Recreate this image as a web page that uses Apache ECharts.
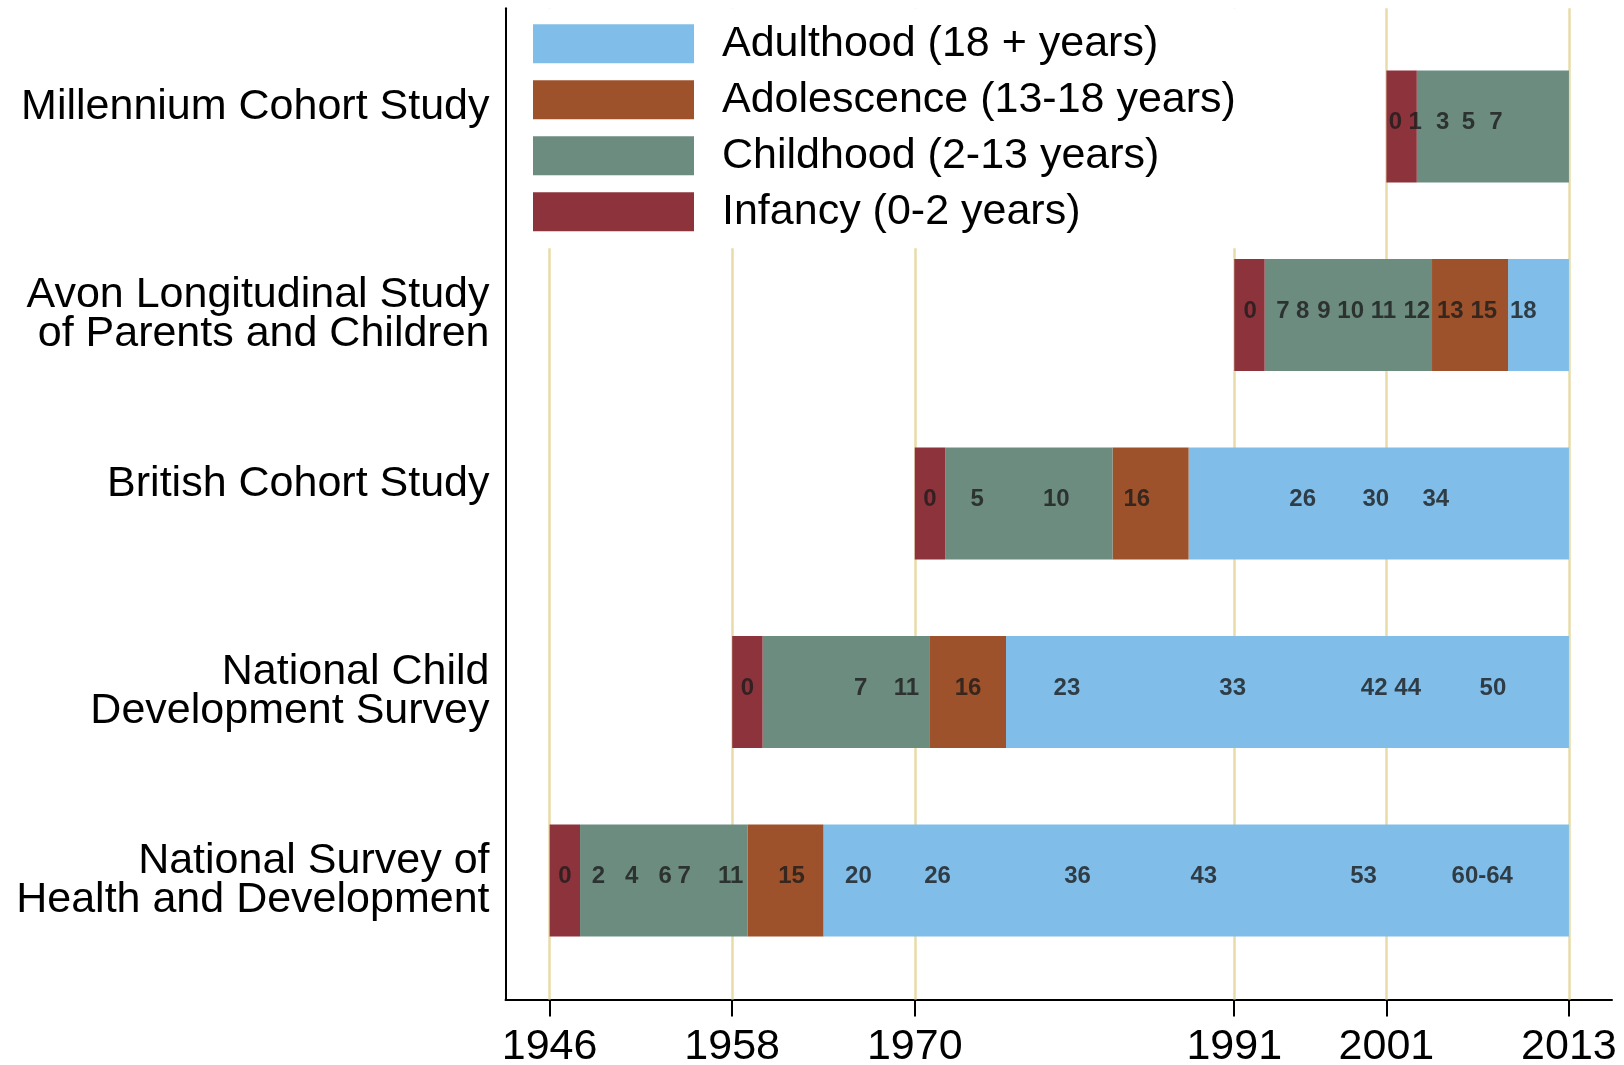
<!DOCTYPE html>
<html>
<head>
<meta charset="utf-8">
<title>Cohort studies timeline</title>
<script src="https://cdn.jsdelivr.net/npm/echarts@6/dist/echarts.min.js"></script>
<style>
  html, body { margin: 0; padding: 0; background: #fff; }
  #chart { width: 1624px; height: 1065px; }
</style>
</head>
<body>
<div id="chart"></div>
<script>
// rows, bottom to top
var cohorts = [
    'National Survey of\nHealth and Development',
    'National Child\nDevelopment Survey',
    'British Cohort Study',
    'Avon Longitudinal Study\nof Parents and Children',
    'Millennium Cohort Study'
];
var yearTicks = [1946, 1958, 1970, 1991, 2001, 2013];

// [start year, end year] per row index
var infancy = [[1946, 1948], [1958, 1960], [1970, 1972], [1991, 1993], [2001, 2003]];
var childhood = [[1948, 1959], [1960, 1971], [1972, 1983], [1993, 2004], [2003, 2013]];
var adolescence = [[1959, 1964], [1971, 1976], [1983, 1988], [2004, 2009]];
var adulthood = [[1964, 2013], [1976, 2013], [1988, 2013], [2009, 2013]];

// sweep ages written on the bars and where they sit (year)
var nshdAges = ['0', '2', '4', '6', '7', '11', '15', '20', '26', '36', '43', '53', '60-64'];
var nshdAt = [1947.0, 1949.2, 1951.4, 1953.6, 1954.85, 1957.9, 1961.9, 1966.3, 1971.5, 1980.7, 1989.0, 1999.5, 2007.3];
var ncdsAges = ['0', '7', '11', '16', '23', '33', '42', '44', '50'];
var ncdsAt = [1959.0, 1966.45, 1969.45, 1973.5, 1980.0, 1990.9, 2000.2, 2002.4, 2008.0];
var bcsAges = ['0', '5', '10', '16', '26', '30', '34'];
var bcsAt = [1971.0, 1974.1, 1979.3, 1984.6, 1995.5, 2000.3, 2004.25];
var alspacAges = ['0', '7', '8', '9', '10', '11', '12', '13', '15', '18'];
var alspacAt = [1992.05, 1994.2, 1995.5, 1996.9, 1998.65, 2000.8, 2003.0, 2005.2, 2007.4, 2010.0];
var mcsAges = ['0', '1', '3', '5', '7'];
var mcsAt = [2001.6, 2002.9, 2004.7, 2006.4, 2008.2];

var FONT = '"Liberation Sans", Arial, Helvetica, sans-serif';
var barRatio = 0.594;

var spans = function (list) {
    return list.map(function (d, i) { return [d[0], d[1], i]; });
};

var ageLabels = function () {
    var out = [];
    [[nshdAges, nshdAt], [ncdsAges, ncdsAt], [bcsAges, bcsAt], [alspacAges, alspacAt], [mcsAges, mcsAt]]
        .forEach(function (row, r) {
            row[0].forEach(function (txt, k) { out.push([row[1][k], r, txt]); });
        });
    return out;
};

var renderSpan = function (params, api) {
    var start = api.coord([api.value(0), api.value(2)]);
    var end = api.coord([api.value(1), api.value(2)]);
    var h = api.size([0, barRatio])[1];
    var rect = echarts.graphic.clipRectByRect({
        x: start[0], y: start[1] - h / 2, width: end[0] - start[0], height: h
    }, {
        x: params.coordSys.x, y: params.coordSys.y,
        width: params.coordSys.width, height: params.coordSys.height
    });
    if (!rect) return;
    return { type: 'rect', shape: rect, style: { fill: api.visual('color') } };
};

var phaseSeries = function (name, color, list) {
    return {
        name: name,
        type: 'custom',
        renderItem: renderSpan,
        encode: { x: [0, 1], y: 2 },
        itemStyle: { color: color },
        data: spans(list),
        z: 2,
        silent: true
    };
};

var chart = echarts.init(document.getElementById('chart'));

var infancySeries = phaseSeries('Infancy (0-2 years)', '#8d333c', infancy);
infancySeries.markLine = {
    silent: true,
    z: 1,
    symbol: 'none',
    label: { show: false },
    lineStyle: { color: '#e8dba8', width: 2.5, type: 'solid' },
    data: yearTicks.map(function (y) { return { xAxis: y }; })
};

chart.setOption({
    animation: false,
    backgroundColor: '#fff',
    grid: { left: 505.5, right: 12, top: 8.3, bottom: 65.5, containLabel: false, outerBoundsMode: 'none' },
    legend: {
        orient: 'vertical',
        left: 513,
        top: 8.3,
        padding: [14, 20, 15, 20],
        backgroundColor: '#fff',
        itemWidth: 161,
        itemHeight: 39,
        itemGap: 13,
        icon: 'rect',
        selectedMode: false,
        data: ['Adulthood (18 + years)', 'Adolescence (13-18 years)', 'Childhood (2-13 years)', 'Infancy (0-2 years)'],
        textStyle: { fontFamily: FONT, fontSize: 43, lineHeight: 39, color: '#000', padding: [0, 0, 0, 23] }
    },
    xAxis: {
        type: 'value',
        min: 1943.1,
        max: 2015.83,
        axisLine: { show: true, onZero: false, lineStyle: { color: '#000', width: 2 } },
        axisTick: { show: true, customValues: yearTicks, length: 17, lineStyle: { color: '#000', width: 2 } },
        axisLabel: {
            customValues: yearTicks,
            margin: 26,
            fontFamily: FONT,
            fontSize: 43,
            color: '#000',
            formatter: function (v) { return String(v); }
        },
        splitLine: { show: false }
    },
    yAxis: {
        type: 'value',
        min: -0.631,
        max: 4.627,
        axisLine: { show: true, onZero: false, lineStyle: { color: '#000', width: 2 } },
        axisTick: { show: false },
        axisLabel: {
            customValues: [0, 1, 2, 3, 4],
            margin: 16,
            fontFamily: FONT,
            fontSize: 43,
            lineHeight: 39,
            color: '#000',
            formatter: function (v) {
                var name = cohorts[Math.round(v)];
                return name.indexOf('\n') < 0 ? name + '\n ' : name;
            }
        },
        splitLine: { show: false }
    },
    series: [
        phaseSeries('Adulthood (18 + years)', '#80bee9', adulthood),
        phaseSeries('Adolescence (13-18 years)', '#9e522c', adolescence),
        phaseSeries('Childhood (2-13 years)', '#6d8c80', childhood),
        infancySeries,
        {
            name: 'ages',
            type: 'scatter',
            symbolSize: 0,
            silent: true,
            z: 3,
            data: ageLabels(),
            label: {
                show: true,
                position: 'inside',
                offset: [0, -4],
                formatter: function (p) { return p.data[2]; },
                fontFamily: FONT,
                fontSize: 24,
                fontWeight: 'bold',
                color: '#1c1c1c'
            }
        }
    ]
});
</script>
</body>
</html>
